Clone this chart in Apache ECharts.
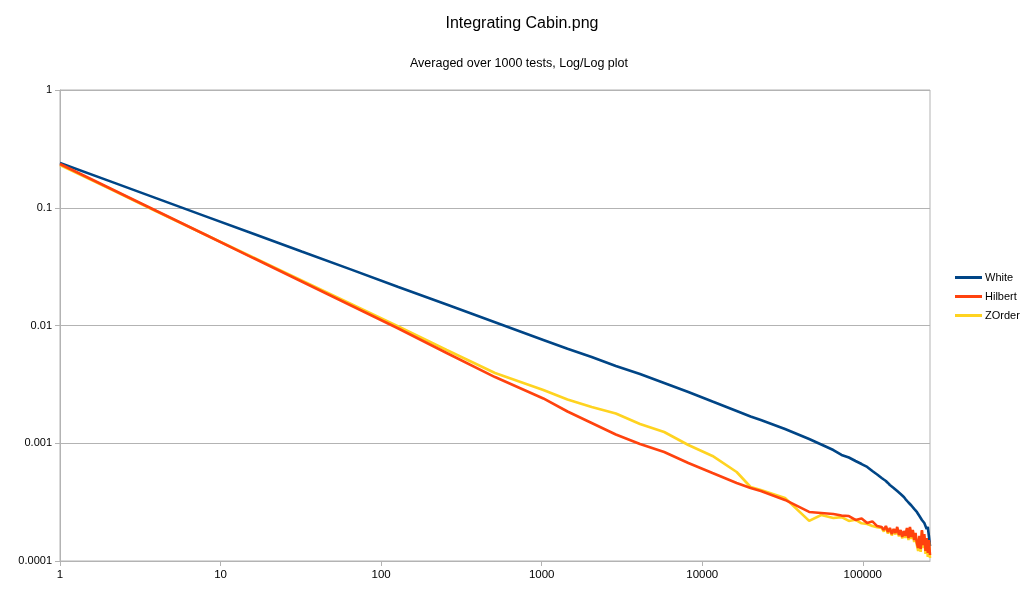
<!DOCTYPE html>
<html>
<head>
<meta charset="utf-8">
<script src="https://cdn.jsdelivr.net/npm/echarts@6/dist/echarts.min.js"></script>
<style>html,body{margin:0;padding:0;background:#fff;}#c{width:1024px;height:589px;}</style>
</head>
<body>
<div id="c"></div>
<script>
const titleText = 'Integrating Cabin.png';
const subtitleText = 'Averaged over 1000 tests, Log/Log plot';
const seriesNames = ['White', 'Hilbert', 'ZOrder'];
const xTicks = [1, 10, 100, 1000, 10000, 100000];
const yTicks = [0.0001, 0.001, 0.01, 0.1, 1];

const xValues = [1,2,4,8,16,32,64,128,256,512,1024,1448,2048,2896,4096,5793,8192,11585,16384,20000,
  23170,32768,46341,55109,65536,73728,81920,90112,98304,106496,114688,122880,
  131072,135168,139264,143360,147456,151552,155648,159744,163840,167936,172032,176128,180224,184320,
  188416,192512,196608,200704,204800,208896,212992,217088,221184,225280,229376,233472,237568,241664,
  245760,249856,253952,258048,262144];

const white = [0.240,0.170,0.1201,0.0849,0.0601,0.0425,0.0301,0.02127,0.01505,0.01065,
  0.00753,0.00634,0.00540,0.00453,0.00387,0.00325,0.00272,0.00226,0.00188,0.00169,
  0.001576,0.001321,0.001087,0.000976,0.000876,0.000795,0.000757,0.000707,0.000666,0.000629,0.000581,0.000543,
  5.07e-4,4.92e-4,4.78e-4,4.60e-4,4.42e-4,4.29e-4,4.17e-4,4.06e-4,3.93e-4,3.82e-4,3.71e-4,3.57e-4,3.50e-4,
  3.36e-4,3.30e-4,3.14e-4,3.11e-4,2.96e-4,2.93e-4,2.77e-4,2.74e-4,2.61e-4,2.56e-4,2.41e-4,2.36e-4,2.23e-4,
  2.27e-4,2.10e-4,2.02e-4,1.87e-4,1.95e-4,1.63e-4,1.34e-4];

const hilbert = [0.2352,0.1486,0.0938,0.0593,0.0374,0.02364,0.01493,0.00943,0.00584,0.00365,
  0.00240,0.00186,0.001486,0.001187,0.000986,0.000843,0.000680,0.000559,0.000460,0.000417,
  0.000393,0.000330,0.000261,0.000256,0.000251,0.000243,0.000241,0.000223,0.000230,0.000210,0.000217,0.000198,
  1.945e-4,1.834e-4,1.983e-4,1.763e-4,1.907e-4,1.696e-4,1.870e-4,1.729e-4,1.945e-4,1.663e-4,1.834e-4,1.599e-4,
  1.798e-4,1.631e-4,1.907e-4,1.568e-4,1.945e-4,1.599e-4,1.834e-4,1.508e-4,1.729e-4,1.422e-4,1.289e-4,1.631e-4,
  1.265e-4,1.834e-4,1.367e-4,1.696e-4,1.216e-4,1.568e-4,1.170e-4,1.508e-4,1.125e-4];

const zorder = [0.2307,0.1471,0.0929,0.0593,0.0378,0.02411,0.01538,0.00981,0.00619,0.00395,
  0.00283,0.00235,0.00203,0.00179,0.001457,0.001246,0.000966,0.000780,0.000570,0.000425,
  0.000401,0.000343,0.000219,0.000246,0.000232,0.000236,0.000219,0.000224,0.000209,0.000206,0.000198,0.000194,
  1.907e-4,1.780e-4,1.945e-4,1.712e-4,1.870e-4,1.647e-4,1.834e-4,1.679e-4,1.888e-4,1.615e-4,1.798e-4,1.553e-4,
  1.763e-4,1.568e-4,1.870e-4,1.508e-4,1.888e-4,1.538e-4,1.798e-4,1.450e-4,1.696e-4,1.367e-4,1.216e-4,1.568e-4,
  1.193e-4,1.798e-4,1.289e-4,1.631e-4,1.147e-4,1.508e-4,1.082e-4,1.450e-4,1.060e-4];

const colors = {White: '#004586', Hilbert: '#ff420e', ZOrder: '#ffd320'};
const pairs = ys => xValues.map((x, i) => [x, ys[i]]);
const font = '"Liberation Sans", Arial, sans-serif';
const gridColor = '#b3b3b3';

const chart = echarts.init(document.getElementById('c'), null, {renderer: 'canvas'});
chart.setOption({
  animation: false,
  backgroundColor: '#fff',
  title: [
    {text: titleText, left: 517, top: 11, textAlign: 'center',
     textStyle: {fontFamily: font, fontSize: 16, fontWeight: 'normal', color: '#000'}},
    {text: subtitleText, left: 514, top: 52, textAlign: 'center',
     textStyle: {fontFamily: font, fontSize: 12.5, fontWeight: 'normal', color: '#000'}}
  ],
  legend: {
    orient: 'vertical', left: 955, top: 272, padding: 0,
    data: seriesNames,
    icon: 'rect', itemWidth: 27, itemHeight: 3, itemGap: 8,
    textStyle: {fontFamily: font, fontSize: 11, color: '#000', padding: [0, 0, 0, -2]}
  },
  grid: {left: 60, right: 94, top: 90, bottom: 28, show: true, borderColor: gridColor, borderWidth: 1},
  xAxis: {
    type: 'log', logBase: 10, min: 1, max: 262144,
    axisLine: {lineStyle: {color: gridColor, width: 1}},
    axisTick: {show: true, length: 5, lineStyle: {color: gridColor}, customValues: xTicks},
    axisLabel: {fontFamily: font, fontSize: 11.5, color: '#000', margin: 8, customValues: xTicks,
      formatter: v => String(Math.round(v))},
    splitLine: {show: false}
  },
  yAxis: {
    type: 'log', logBase: 10, min: 0.0001, max: 1,
    axisLine: {show: true, lineStyle: {color: gridColor, width: 1}},
    axisTick: {show: true, length: 5, lineStyle: {color: gridColor}},
    axisLabel: {fontFamily: font, fontSize: 11, color: '#000', margin: 8,
      formatter: v => String(Number(Number(v).toPrecision(1)))},
    splitLine: {show: true, lineStyle: {color: gridColor, width: 1}}
  },
  series: [
    {name: 'White', type: 'line', data: pairs(white), showSymbol: false, z: 3,
     lineStyle: {color: colors.White, width: 2.6}, itemStyle: {color: colors.White}},
    {name: 'ZOrder', type: 'line', data: pairs(zorder), showSymbol: false, z: 4,
     lineStyle: {color: colors.ZOrder, width: 2.6}, itemStyle: {color: colors.ZOrder}},
    {name: 'Hilbert', type: 'line', data: pairs(hilbert), showSymbol: false, z: 5,
     lineStyle: {color: colors.Hilbert, width: 2.6}, itemStyle: {color: colors.Hilbert}}
  ]
});
</script>
</body>
</html>
